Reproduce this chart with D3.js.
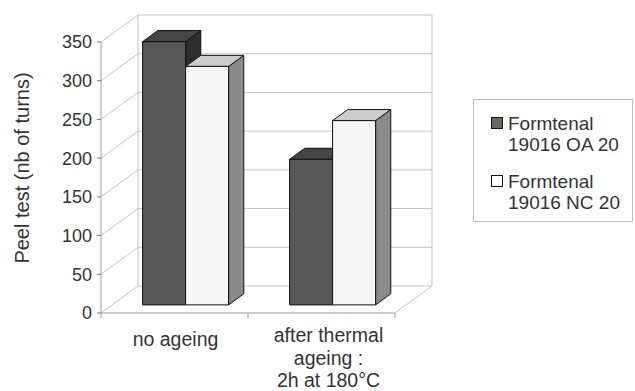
<!DOCTYPE html>
<html lang="en">
<head>
<meta charset="UTF-8">
<title>Peel test</title>
<script src="https://d3js.org/d3.v7.min.js"></script>
<style>
  body { margin: 0; background: #fff; }
  svg { display: block; font-family: "Liberation Sans", Arial, sans-serif; }
</style>
</head>
<body>
<div id="chart"></div>
<script>
const categories = ["no ageing", "after thermal\nageing :\n2h at 180°C"];
const series = ["Formtenal\n19016 OA 20", "Formtenal\n19016 NC 20"];
const oaValues = [340, 188];
const ncValues = [308, 238];
const yTicks = [0, 50, 100, 150, 200, 250, 300, 350];

const W = 635, H = 391;
const svg = d3.select("#chart").append("svg").attr("width", W).attr("height", H);

// front plane scales
const x0 = d3.scaleBand().domain(categories).range([101, 395]);
const y = d3.scaleLinear().domain([0, 350]).range([313, 42]);
const depth = {dx: 37, dy: -27};
const P = (px, py, d) => [px + depth.dx * d, py + depth.dy * d];

const groupW = x0.bandwidth() * 0.585;
const x1 = d3.scaleBand().domain(series).range([0, groupW]);
const grid = "#c4c4c4";

// left wall gridlines + back wall gridlines
yTicks.forEach(t => {
  const a = P(101, y(t), 0), b = P(101, y(t), 1), c = P(395, y(t), 1);
  svg.append("line").attr("x1", a[0]).attr("y1", a[1]).attr("x2", b[0]).attr("y2", b[1])
    .attr("stroke", grid);
  if (t > 0) svg.append("line").attr("x1", b[0]).attr("y1", b[1]).attr("x2", c[0]).attr("y2", c[1])
    .attr("stroke", grid);
});
// walls outline
const bl = P(101, y(0), 1), tl = P(101, y(350), 1), br = P(395, y(0), 1), tr = P(395, y(350), 1);
svg.append("path").attr("fill", "none").attr("stroke", grid)
  .attr("d", `M${bl}L${tl}M${tr}L${br}L${bl}M${br}L${P(395, y(0), 0)}`);
svg.append("line").attr("x1", 101).attr("x2", 101).attr("y1", y(350)).attr("y2", y(0))
  .attr("stroke", "#9a9a9a");
svg.append("line").attr("x1", 101).attr("x2", 395).attr("y1", y(0)).attr("y2", y(0))
  .attr("stroke", "#9a9a9a");

// y axis ticks/labels
const yg = svg.append("g");
yTicks.forEach(t => {
  yg.append("line").attr("x1", 97).attr("x2", 101).attr("y1", y(t)).attr("y2", y(t)).attr("stroke", "#777");
  yg.append("text").attr("x", 92).attr("y", y(t)).attr("dy", "0.36em").attr("text-anchor", "end")
    .attr("font-size", 18).attr("fill", "#333").text(t);
});
// category ticks
[101, x0(categories[1]), 395].forEach(px =>
  svg.append("line").attr("x1", px).attr("x2", px).attr("y1", y(0)).attr("y2", y(0) + 5).attr("stroke", "#9a9a9a"));

// bars
const d0 = 0.3, d1 = 0.71;
const styles = [
  {front: "#575757", top: "#454545", side: "#2d2d2d"},
  {front: "#f6f6f6", top: "#cdcdcd", side: "#8a8a8a"}
];
const bars = [];
categories.forEach((c, i) => {
  series.forEach((s, j) => bars.push({c, s, j, v: (j === 0 ? oaValues : ncValues)[i]}));
});
bars.forEach(b => {
  const xl = x0(b.c) + (x0.bandwidth() - groupW) / 2 + x1(b.s);
  const xr = xl + x1.bandwidth();
  const yt = y(b.v), yb = y(0);
  const st = styles[b.j];
  const g = svg.append("g").attr("stroke", "#111").attr("stroke-width", 1).attr("stroke-linejoin", "round");
  const fTL = P(xl, yt, d0), fTR = P(xr, yt, d0), fBR = P(xr, yb, d0), fBL = P(xl, yb, d0);
  const bTL = P(xl, yt, d1), bTR = P(xr, yt, d1), bBR = P(xr, yb, d1);
  g.append("path").attr("fill", st.side).attr("d", `M${fTR}L${bTR}L${bBR}L${fBR}Z`);
  g.append("path").attr("fill", st.top).attr("d", `M${fTL}L${bTL}L${bTR}L${fTR}Z`);
  g.append("path").attr("fill", st.front).attr("d", `M${fTL}L${fTR}L${fBR}L${fBL}Z`);
});

// category labels
const labelY = [[346], [342, 364.5, 387]];
categories.forEach((c, i) => {
  const t = svg.append("text").attr("text-anchor", "middle").attr("font-size", 19.5).attr("fill", "#333");
  c.split("\n").forEach((ln, k) =>
    t.append("tspan").attr("x", x0(c) + x0.bandwidth() / 2 + (i === 1 ? 7 : 1))
      .attr("y", labelY[i][k]).text(ln));
});

// y title
svg.append("text").attr("transform", `translate(29,168) rotate(-90)`).attr("text-anchor", "middle")
  .attr("font-size", 20).attr("fill", "#333").text("Peel test (nb of turns)");

// legend
const lg = svg.append("g");
lg.append("rect").attr("x", 473.5).attr("y", 99.5).attr("width", 159).attr("height", 122)
  .attr("fill", "#fff").attr("stroke", "#bdbdbd");
const legendY = [[129.5, 150.5], [187.5, 208.5]];
series.forEach((s, j) => {
  const sy = legendY[j][0] - 12.5;
  lg.append("rect").attr("x", 491.5).attr("y", sy + 0.5).attr("width", 11).attr("height", 11)
    .attr("fill", j === 0 ? "#666" : "#fff").attr("stroke", "#111");
  const t = lg.append("text").attr("font-size", 19).attr("fill", "#333");
  s.split("\n").forEach((ln, k) =>
    t.append("tspan").attr("x", 508).attr("y", legendY[j][k]).text(ln));
});
</script>
</body>
</html>
